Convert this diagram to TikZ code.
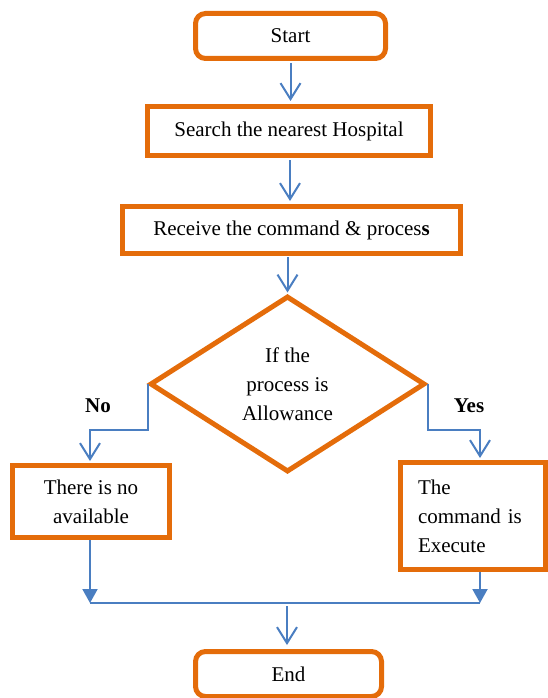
\documentclass[tikz,border=0pt]{standalone}
\usepackage{fontspec}
\setmainfont{Liberation Serif}
\usepackage{tikz}
\usetikzlibrary{arrows.meta, positioning, calc, shapes.geometric}

\definecolor{boxorange}{RGB}{228,108,10}
\definecolor{flowblue}{RGB}{74,126,193}

\begin{document}
\begin{tikzpicture}[x=1pt, y=-1pt,
    font=\fontsize{21}{29}\selectfont,
    box/.style={draw=boxorange, line width=5pt, inner sep=0pt, align=center},
    rbox/.style={box, rounded corners=10pt},
    dec/.style={draw=boxorange, line width=5pt, diamond, inner sep=0pt, align=center},
    arr/.style={draw=flowblue, line width=2pt, -{Straight Barb[length=16pt, width=20pt, line width=2pt]}},
    farr/.style={draw=flowblue, line width=2pt, -{Triangle[length=14pt, width=15pt]}},
    lnk/.style={draw=flowblue, line width=2pt},
    lbl/.style={font=\fontsize{21}{29}\selectfont\bfseries}]
    \useasboundingbox (0,0) rectangle (548,698);
    \node[rbox, minimum width=190pt, minimum height=45pt] (start) at (290.5,36) {Start};
    \node[box, minimum width=283pt, minimum height=49pt] (search) at (289,131) {Search the nearest Hospital};
    \node[box, minimum width=338pt, minimum height=47pt] (recv) at (291.5,230) {Receive the command \& proces\textbf{s}};
    \node[dec, minimum width=275pt, minimum height=176pt] (dia) at (287.5,384) {If the\\process is\\Allowance};
    \node[box, minimum width=157pt, minimum height=72pt] (no) at (91,501.5) {There is no\\available};
    \node[box, minimum height=107pt, text width=110pt, inner xsep=17.5pt, align=left] (yes) at (473,516) {The\\command is\\Execute};
    \node[rbox, minimum width=186pt, minimum height=45pt] (end) at (288.5,674) {End};
    \node[lbl] (nolbl) at (98,406) {No};
    \node[lbl] (yeslbl) at (469,406) {Yes};
    \coordinate (nbend) at (90,430);
    \coordinate (ybend) at (480,430);
    \coordinate (jl) at (90,603);
    \coordinate (jr) at (480,603);
    \coordinate (jm) at (287,603);
    % main line
    \draw[arr, shorten <=2pt, shorten >=3pt] (start.south) -- (start.south |- search.north);
    \draw[arr, shorten <=2pt, shorten >=3pt] (search.south -| 290,0) -- (recv.north -| 290,0);
    \draw[arr, shorten <=1pt, shorten >=1pt] (dia.north |- recv.south) -- (dia.north);
    % branches
    \draw[arr, shorten >=2pt] (dia.west) -- (dia.west |- nbend) -- (nbend) -- (nbend |- no.north);
    \draw[arr, shorten >=2pt] (dia.east) -- (dia.east |- ybend) -- (ybend) -- (ybend |- yes.north);
    % merge
    \draw[farr] (jl |- no.south) -- (jl);
    \draw[farr] (jr |- yes.south) -- (jr);
    \draw[lnk] (jl) -- (jr);
    \draw[arr, shorten <=3pt, shorten >=4pt] (jm) -- (jm |- end.north);
\end{tikzpicture}
\end{document}
